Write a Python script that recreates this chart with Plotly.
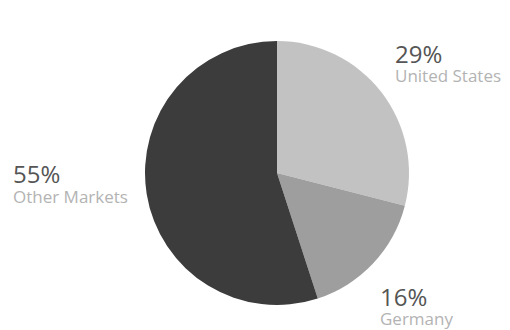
import plotly.graph_objects as go

categories = ["United States", "Germany", "Other Markets"]
shares = [29, 16, 55]
colors = ["#c2c2c2", "#9e9e9e", "#3c3c3c"]

# label anchor positions in pixels: (left x, value centre y, name centre y)
label_pos = {
    "United States": (393, 53, 75),
    "Germany": (378, 296, 318),
    "Other Markets": (11, 174, 196),
}

W, H = 510, 330

fig = go.Figure(
    go.Pie(
        labels=categories,
        values=shares,
        sort=False,
        direction="clockwise",
        rotation=0,
        marker=dict(colors=colors, line=dict(width=0)),
        textinfo="none",
        hoverinfo="label+percent",
        showlegend=False,
        domain=dict(x=[145 / W, 409 / W], y=[25 / H, 289 / H]),
    )
)

annotations = []
for cat, val in zip(categories, shares):
    px, vy, ny = label_pos[cat]
    annotations.append(
        dict(
            x=px / W, y=1 - vy / H, xref="paper", yref="paper",
            xanchor="left", yanchor="middle", align="left",
            showarrow=False, text=f"{val}%",
            font=dict(family="Open Sans, sans-serif", size=24, color="#555555"),
        )
    )
    annotations.append(
        dict(
            x=px / W, y=1 - ny / H, xref="paper", yref="paper",
            xanchor="left", yanchor="middle", align="left",
            showarrow=False, text=cat,
            font=dict(family="Open Sans, sans-serif", size=17, color="#b3b3b3"),
        )
    )

fig.update_layout(
    width=W, height=H,
    margin=dict(l=0, r=0, t=0, b=0),
    paper_bgcolor="white",
    plot_bgcolor="white",
    annotations=annotations,
)

fig.write_html("out.html")
